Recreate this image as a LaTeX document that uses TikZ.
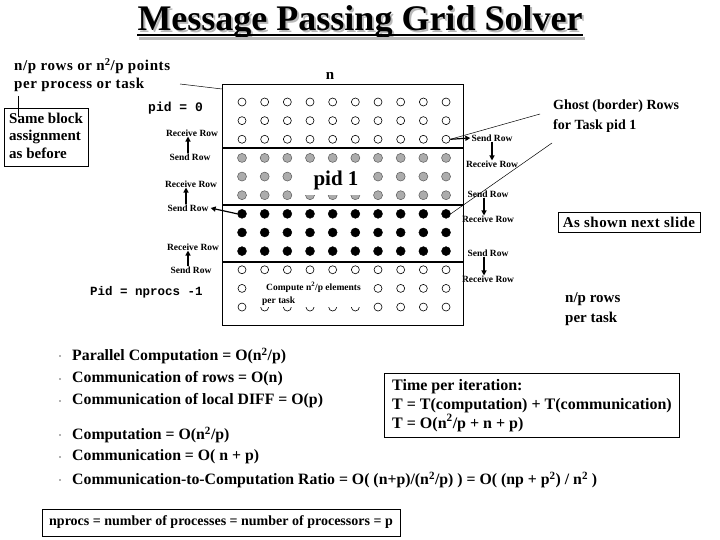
\documentclass[tikz,border=0pt]{standalone}
\usepackage{fontspec}
\setmainfont{Liberation Serif}
\setmonofont{Liberation Mono}
\usetikzlibrary{arrows.meta}
\newcommand\fsz[2]{\fontsize{#1}{#2}\selectfont}
\tikzset{
  txt/.style={inner sep=0pt, anchor=base west, font=\fsz{15}{20}\bfseries},
  lbl/.style={inner sep=0pt, font=\fsz{9.5}{11}\bfseries},
  mono/.style={inner sep=0pt, font=\fsz{13}{15}\ttfamily\bfseries},
  odot/.style={circle, draw=black, line width=0.6pt, fill=white, minimum size=8pt, inner sep=0pt},
  gdot/.style={circle, draw=gray!70!black, line width=0.5pt, fill=gray!65, minimum size=9pt, inner sep=0pt},
  bdot/.style={circle, draw=black, fill=black, minimum size=9pt, inner sep=0pt},
  arr/.style={line width=1.2pt, -{Triangle[length=5pt,width=5pt]}},
  thin/.style={line width=0.5pt},
  bul/.style={fill=gray!60, minimum size=2.5pt, inner sep=0pt},
  spaced/.style={font=\fsz{15}{18}\bfseries\addfontfeature{LetterSpace=4}},
}
\begin{document}
\begin{tikzpicture}[x=1pt,y=-1pt]
\useasboundingbox (0,0) rectangle (720,540);
\fill[white] (0,0) rectangle (720,540);

% title with shadow
\node[inner sep=0pt, anchor=base, text=gray!55, font=\fsz{36}{40}\bfseries] (tshadow) at (362,33) {Message Passing Grid Solver};
\node[inner sep=0pt, anchor=base, font=\fsz{36}{40}\bfseries] (title) at (360,31) {Message Passing Grid Solver};
\draw[gray!55, line width=2.5pt] ([yshift=-5.5pt]tshadow.base west) -- ([yshift=-5.5pt]tshadow.base east);
\draw[line width=2.5pt] ([yshift=-4pt]title.base west) -- ([yshift=-4pt]title.base east);

% top-left note
\node[txt, spaced] (note1) at (14,71) {n/p rows or n\textsuperscript{2}/p points};
\node[txt, spaced] (note2) at (14,89) {per process or task};
\node[draw, thin, anchor=north west, minimum width=84pt, minimum height=58pt, inner sep=0pt] (same) at (4,108) {};
\node[txt] (same1) at (9,124) {Same block};
\node[txt] (same2) at (9,141) {assignment};
\node[txt] (same3) at (9,159) {as before};
\coordinate (na) at (18,96);
\coordinate (nb) at (18,117);
\draw[thin] (na) -- (nb);

% grid box
\node[draw, thin, anchor=north west, minimum width=241pt, minimum height=241pt, inner sep=0pt] (grid) at (222,84) {};
\node[txt, anchor=base] (n) at (330,80) {n};
\coordinate (c1) at (180,84);
\draw[thin] (c1) -- ([yshift=-5pt]grid.north west);

% separators
\draw[line width=2pt] (222,148) -- (463,148);
\draw[line width=2pt] (222,205) -- (463,205);
\draw[line width=2pt] (222,262) -- (463,262);

% dots
\foreach \r in {0,1,2,9,10,11}{\foreach \c in {0,...,9}{\node[odot] (d\r-\c) at ({242+22.67*\c},{102+18.64*\r}) {};}}
\foreach \r in {3,4,5}{\foreach \c in {0,...,9}{\node[gdot] (d\r-\c) at ({242+22.67*\c},{102+18.64*\r}) {};}}
\foreach \r in {6,7,8}{\foreach \c in {0,...,9}{\node[bdot] (d\r-\c) at ({242+22.67*\c},{102+18.64*\r}) {};}}

% covers
\node[fill=white, minimum width=72pt, minimum height=29pt, inner sep=0pt, font=\fsz{21}{24}\bfseries] (pid1) at (336,180.5) {pid 1};
\node[fill=white, minimum width=108pt, minimum height=28pt, inner sep=0pt] (compute) at (312,293) {};
\node[lbl, anchor=base west] (comp1) at (266,290) {Compute n\textsuperscript{2}/p elements};
\node[lbl, anchor=base west] (comp2) at (262,303) {per task};

% pid labels
\node[mono, anchor=west] (pid0) at (148,108) {pid = 0};
\node[mono, anchor=west, font=\fsz{12.5}{15}\ttfamily\bfseries] (pidn) at (90,292) {Pid = nprocs -1};

% left labels
\node[lbl] (lr1) at (192,133) {Receive Row};
\node[lbl] (ls1) at (190,157) {Send Row};
\draw[arr] ([xshift=-2pt]ls1.north) -- ([xshift=-2pt]ls1.north |- lr1.south);
\node[lbl] (lr2) at (191,184) {Receive Row};
\node[lbl] (ls2) at (188,208) {Send Row};
\draw[arr] ([xshift=-2pt]ls2.north) -- ([xshift=-2pt]ls2.north |- lr2.south);
\node[lbl] (lr3) at (193,247) {Receive Row};
\node[lbl] (ls3) at (191,270) {Send Row};
\draw[arr] ([xshift=-3pt]ls3.north) -- ([xshift=-3pt]ls3.north |- lr3.south);
\draw[arr] (d6-0.west) -- ([xshift=2pt]ls2.east);

% right labels
\node[lbl] (rs1) at (492,138) {Send Row};
\node[lbl] (rr1) at (492,164) {Receive Row};
\draw[arr] (rs1.south) -- (rs1.south |- rr1.north);
\node[lbl] (rs2) at (488,194) {Send Row};
\node[lbl] (rr2) at (488,219) {Receive Row};
\draw[arr] ([xshift=-4pt]rs2.south) -- ([xshift=-4pt]rs2.south |- rr2.north);
\node[lbl] (rs3) at (488,253) {Send Row};
\node[lbl] (rr3) at (488,279) {Receive Row};
\draw[arr] ([xshift=-4pt]rs3.south) -- ([xshift=-4pt]rs3.south |- rr3.north);
\draw[arr] (d2-9.east) -- ([xshift=-1pt]rs1.west);

% ghost note
\node[txt, font=\fsz{14}{18}\bfseries] (ghost1) at (553,110) {Ghost (border) Rows};
\node[txt, font=\fsz{14}{18}\bfseries] (ghost2) at (553,130) {for Task pid 1};
\coordinate (g1) at (540,114);
\coordinate (g2) at (552,143);
\draw[thin] (g1) -- (d2-9.east);
\draw[thin] (g2) -- (d6-9.east);

\node[draw, thin, minimum width=142pt, minimum height=20pt, inner sep=0pt, font=\fsz{15}{18}\bfseries\addfontfeature{LetterSpace=3}] (next) at (629,222) {As shown next slide};
\node[txt] (nprows1) at (565,302) {n/p rows};
\node[txt] (nprows2) at (565,322) {per task};

% bullets
\foreach \y/\t [count=\i] in {356/{Parallel Computation = O(n\textsuperscript{2}/p)},
  379/{Communication of rows = O(n)},
  401/{Communication of local DIFF = O(p)},
  435/{Computation = O(n\textsuperscript{2}/p)},
  457/{Communication = O( n + p)},
  480/{Communication-to-Computation Ratio = O( (n+p)/(n\textsuperscript{2}/p) ) = O( (np + p\textsuperscript{2}) / n\textsuperscript{2} )}}{
  \node[bul] (b\i) at (60,\y) {};
  \node[txt, anchor=west, font=\fsz{15.8}{20}\bfseries] (bt\i) at (72,\y) {\t};
}

% time box
\node[draw, thin, anchor=north west, minimum width=295pt, minimum height=64pt, inner sep=0pt] (timebox) at (384,373) {};
\node[txt, font=\fsz{16}{18}\bfseries] (time1) at (392,390) {Time per iteration:};
\node[txt, font=\fsz{16}{18}\bfseries] (time2) at (392,409) {T = T(computation) + T(communication)};
\node[txt, font=\fsz{16}{18}\bfseries] (time3) at (392,428) {T = O(n\textsuperscript{2}/p + n + p)};

% nprocs box
\node[draw, thin, minimum width=358pt, minimum height=27pt, inner sep=0pt, font=\fsz{14}{16}\bfseries] (nprocs) at (221,522.5) {nprocs = number of processes = number of processors = p};
\end{tikzpicture}
\end{document}
